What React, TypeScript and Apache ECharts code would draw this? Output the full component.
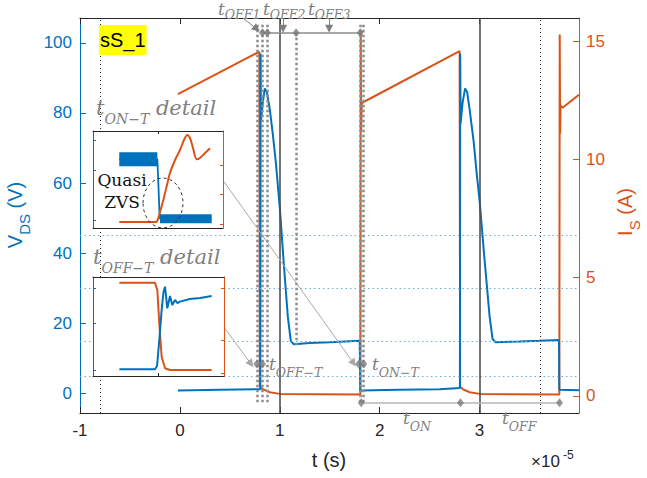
import React, { useEffect, useRef } from 'react';
import * as echarts from 'echarts';

const BLUE = '#0072BD';
const ORANGE = '#D95319';
const GRAY = '#808080';
const INK = '#262626';
const SANS = '"Liberation Sans", Arial, Helvetica, sans-serif';
const SERIF = '"DejaVu Serif", "Liberation Serif", serif';

// ---- tick labels ----
const xTicks = [-1, 0, 1, 2, 3];
const vTicks = [0, 20, 40, 60, 80, 100];
const iTicks = [0, 5, 10, 15];

// ---- main traces (t in units of 1e-5 s) ----
const vdsTrace: number[][] = [
  [-0.02, 0.8], [0.4, 1.0], [0.76, 1.2], [0.805, 1.2], [0.808, 97], [0.812, 78], [0.83, 83],
  [0.85, 87], [0.87, 86], [0.9, 81], [0.93, 74], [0.96, 66], [1.0, 53], [1.04, 37], [1.08, 22],
  [1.11, 15], [1.14, 14.0], [1.3, 14.4], [1.5, 14.6], [1.7, 14.9], [1.8, 15.0], [1.805, 0.8],
  [2.2, 1.0], [2.6, 1.2], [2.803, 1.5], [2.806, 97], [2.81, 77], [2.83, 83], [2.855, 87],
  [2.875, 86], [2.9, 81], [2.94, 72], [2.97, 63], [3.0, 55], [3.05, 38], [3.1, 22], [3.13, 15.5],
  [3.16, 14.6], [3.4, 14.8], [3.6, 15.0], [3.795, 15.2], [3.798, 1.0], [3.995, 0.9],
];
const isTrace: number[][] = [
  [-0.02, 12.78], [0.795, 14.57], [0.80, 0.4], [0.83, 0.28], [0.9, 0.15], [1.0, 0.08], [1.806, 0.05],
  [1.81, 15.4], [1.814, 11.2], [1.82, 12.4], [2.8, 14.6], [2.805, 0.4], [2.83, 0.28], [2.9, 0.15],
  [3.0, 0.08], [3.798, 0.05], [3.802, 15.3], [3.806, 11.1], [3.81, 12.3], [3.83, 12.2], [3.995, 12.75],
];

// ---- annotation positions (axis units) ----
const markerLines = [0.77, 0.826, 0.875, 1.805, 1.832];
const tOff3Line = 1.163;
const edgeLines = [1, 3];
const refDotted = [-0.8, 3.61];
const levelLines = [45, 30, 15, 5];
const topBarLevel = 102.9;
const topDiamonds = [0.826, 0.875, 1.163, 1.805];
const downArrows = [1.033, 1.494];
const bottomBarLevel = -2.7;
const bottomDiamonds = [1.815, 2.808, 3.8];
const midLevel = 8.4;
const midDiamonds = [0.77, 0.826, 1.79, 1.84];

// ---- inset traces (normalized 0..100 units) ----
const inset1Vds: number[][] = [[20.2, 71], [49.5, 71], [50.3, 45], [51, 20], [51.5, 9.6], [91.3, 9.6]];
const inset1VdsHigh: number[][] = [[20.2, 71], [49.5, 71]];
const inset1VdsLow: number[][] = [[51.5, 9.6], [91.3, 9.6]];
const inset1Is: number[][] = [
  [20.2, 6.2], [47, 6.2], [49, 6.5], [51.5, 16.5], [54.1, 28.9], [56.9, 44.3], [59.2, 56.7],
  [63.1, 70.1], [66.9, 80.4], [70, 90.7], [72.5, 95.9], [74.6, 92.8], [76.9, 82.5], [79.8, 70.8],
  [82.3, 72.2], [86.2, 77.3], [90, 82.2],
];
const inset2Is: number[][] = [
  [20.1, 94.2], [47.3, 94.2], [49.1, 86.9], [50.6, 53.5], [52.4, 19.5], [55, 7.8], [58.8, 6.1], [90.6, 6.1],
];
const inset2Vds: number[][] = [
  [20.1, 6.8], [47.3, 6.8], [48.9, 10.1], [50.6, 36.4], [52.4, 66.7], [53.8, 84.8], [55, 90.2],
  [56.7, 68.4], [58.8, 80.8], [60.5, 71.7], [62.6, 76.8], [64.5, 73.7], [66.4, 75.1], [74, 77.8],
  [81.7, 78.8], [90.6, 80.8],
];
const inset1HLines = [59, 35];
const inset1VLines = [30, 60, 80];
const inset2HLines = [84, 66.7, 39.7, 23.2];
const inset2SolidLine = 49.5;

// ---- helpers ----
const seg = (a: number[], b: number[]) => [{ coord: a }, { coord: b }];

function subLabel(x: number, baseline: number, main: string, sub: string, size: number, subSize: number, drop: number, tail = '', lead = 6) {
  const lh = size + lead;
  const pt = drop + lh / 2 + 0.35 * size - 0.85 * subSize;
  const top = baseline - (lh / 2 + 0.35 * size);
  return {
    type: 'text', x, y: top, z: 60,
    style: {
      text: `{m|${main}}{s|${sub}}` + (tail ? `{m|${tail}}` : ''),
      align: 'left', verticalAlign: 'top',
      rich: {
        m: { fontSize: size, fontFamily: SERIF, fontStyle: 'italic', fill: GRAY, lineHeight: lh, verticalAlign: 'top' },
        s: { fontSize: subSize, fontFamily: SERIF, fontStyle: 'italic', fill: GRAY, lineHeight: subSize, padding: [pt, 0, 0, 0], verticalAlign: 'top' },
      },
    },
  };
}

function axisName(cx: number, cy: number, main: string, sub: string, tail: string, color: string, size: number, subSize: number, drop: number) {
  const lh = size + 6;
  const pt = drop + lh / 2 + 0.35 * size - 0.85 * subSize;
  return {
    type: 'text', x: cx, y: cy, rotation: Math.PI / 2, z: 60,
    style: {
      text: `{m|${main}}{s|${sub}}{m|${tail}}`,
      align: 'center', verticalAlign: 'middle',
      rich: {
        m: { fontSize: size, fontFamily: SANS, fill: color, lineHeight: lh, verticalAlign: 'top' },
        s: { fontSize: subSize, fontFamily: SANS, fill: color, lineHeight: subSize, padding: [pt, 0, 0, 0], verticalAlign: 'top' },
      },
    },
  };
}

const insetX = (gridIndex: number, position: string, ticks: number[]) => ({
  gridIndex, type: 'value', min: 0, max: 100, position, z: 12,
  axisLine: { show: true, onZero: false, lineStyle: { color: INK, width: 1 } },
  axisTick: { show: ticks.length > 0, inside: true, length: 3, customValues: ticks, lineStyle: { color: INK } },
  axisLabel: { show: false }, splitLine: { show: false },
});
const insetY = (gridIndex: number, position: string, color: string, ticks: number[]) => ({
  gridIndex, type: 'value', min: 0, max: 100, position, z: 12,
  axisLine: { show: true, onZero: false, lineStyle: { color, width: 1 } },
  axisTick: { show: true, inside: true, length: 3, customValues: ticks, lineStyle: { color } },
  axisLabel: { show: false }, splitLine: { show: false },
});

const markBase = { silent: true, animation: false, symbol: ['none', 'none'], label: { show: false } };

function buildOption() {
  return {
    animation: false,
    backgroundColor: '#fff',
    grid: [
      { left: 80, top: 18, width: 499, height: 395, containLabel: false, outerBoundsMode: 'none' },
      { left: 93, top: 131, width: 130, height: 97, containLabel: false, outerBoundsMode: 'none', show: true, backgroundColor: '#fff', borderWidth: 0, z: 10 },
      { left: 93, top: 277, width: 131, height: 99, containLabel: false, outerBoundsMode: 'none', show: true, backgroundColor: '#fff', borderWidth: 0, z: 10 },
    ],
    xAxis: [
      {
        gridIndex: 0, type: 'value', min: -1, max: 3.995, position: 'bottom',
        axisLine: { show: true, onZero: false, lineStyle: { color: INK, width: 1 } },
        axisTick: { show: true, inside: true, length: 6, customValues: xTicks, lineStyle: { color: INK } },
        axisLabel: { show: true, customValues: xTicks, fontSize: 17, color: INK, fontFamily: SANS, margin: 9 },
        splitLine: { show: false },
      },
      {
        gridIndex: 0, type: 'value', min: -1, max: 3.995, position: 'top',
        axisLine: { show: true, onZero: false, lineStyle: { color: INK, width: 1 } },
        axisTick: { show: true, inside: true, length: 6, customValues: xTicks, lineStyle: { color: INK } },
        axisLabel: { show: false }, splitLine: { show: false },
      },
      insetX(1, 'bottom', []), insetX(1, 'top', [50]),
      insetX(2, 'bottom', [50]), insetX(2, 'top', []),
    ],
    yAxis: [
      {
        gridIndex: 0, type: 'value', min: -5.6, max: 107.1, position: 'left',
        axisLine: { show: true, onZero: false, lineStyle: { color: BLUE, width: 1 } },
        axisTick: { show: true, inside: true, length: 6, customValues: vTicks, lineStyle: { color: BLUE } },
        axisLabel: { show: true, customValues: vTicks, fontSize: 17, color: BLUE, fontFamily: SANS, margin: 8 },
        splitLine: { show: false },
      },
      {
        gridIndex: 0, type: 'value', min: -0.73, max: 16.0, position: 'right',
        axisLine: { show: true, onZero: false, lineStyle: { color: ORANGE, width: 1 } },
        axisTick: { show: true, inside: true, length: 6, customValues: iTicks, lineStyle: { color: ORANGE } },
        axisLabel: { show: true, customValues: iTicks, fontSize: 17, color: ORANGE, fontFamily: SANS, margin: 7 },
        splitLine: { show: false },
      },
      insetY(1, 'left', BLUE, [90.7, 59.8, 8.2]), insetY(1, 'right', ORANGE, [65, 35.1, 4.1]),
      insetY(2, 'left', BLUE, [88.9, 53.5, 6.1]), insetY(2, 'right', ORANGE, [88.9, 36.4, 3]),
    ],
    series: [
      // reference lines
      {
        type: 'line', xAxisIndex: 0, yAxisIndex: 0, data: [], z: 1, silent: true,
        markLine: {
          ...markBase,
          lineStyle: { color: '#6aaee0', width: 1, type: [1.5, 3] },
          data: levelLines.map((v) => ({ yAxis: v })),
        },
      },
      {
        type: 'line', xAxisIndex: 0, yAxisIndex: 0, data: [], z: 1, silent: true,
        markLine: {
          ...markBase,
          lineStyle: { color: '#222', width: 1, type: [1, 3] },
          data: refDotted.map((t) => ({ xAxis: t })),
        },
      },
      {
        type: 'line', xAxisIndex: 0, yAxisIndex: 0, data: [], z: 1, silent: true,
        markLine: {
          ...markBase,
          lineStyle: { color: '#505050', width: 1.6, type: 'solid' },
          data: edgeLines.map((t) => ({ xAxis: t })),
        },
      },
      {
        type: 'line', xAxisIndex: 0, yAxisIndex: 0, data: [], z: 2, silent: true,
        markLine: {
          ...markBase,
          lineStyle: { color: '#8c8c8c', width: 2.5, type: [2.5, 2.5] },
          data: [
            ...markerLines.map((t) => seg([t, 105.2], [t, -2.5])),
            seg([tOff3Line, topBarLevel], [tOff3Line, 13]),
          ],
        },
      },
      {
        type: 'line', xAxisIndex: 0, yAxisIndex: 0, data: [], z: 2, silent: true,
        markLine: {
          ...markBase,
          lineStyle: { color: '#8c8c8c', width: 1.5, type: 'solid' },
          data: [seg([topDiamonds[0], topBarLevel], [topDiamonds[topDiamonds.length - 1], topBarLevel])],
        },
      },
      {
        type: 'line', xAxisIndex: 0, yAxisIndex: 0, data: [], z: 2, silent: true,
        markLine: {
          ...markBase,
          lineStyle: { color: '#b5b5b5', width: 1.5, type: 'solid' },
          data: [seg([bottomDiamonds[0], bottomBarLevel], [bottomDiamonds[bottomDiamonds.length - 1], bottomBarLevel])],
        },
      },
      {
        type: 'line', xAxisIndex: 0, yAxisIndex: 0, data: [], z: 6, silent: true,
        markLine: {
          ...markBase,
          symbol: ['none', 'triangle'], symbolSize: 8,
          lineStyle: { color: '#7f7f7f', width: 1, type: 'solid' },
          data: [
            seg([0.63, 107.1], [0.768, 104.0]),
            ...downArrows.map((t) => seg([t, 107.1], [t, 104.0])),
          ],
        },
      },
      {
        type: 'line', xAxisIndex: 0, yAxisIndex: 0, data: [], z: 6, silent: true,
        markLine: {
          ...markBase,
          symbol: ['none', 'triangle'], symbolSize: 8,
          lineStyle: { color: '#a8a8a8', width: 1, type: 'solid' },
          data: [seg([0.441, 60.4], [1.739, 8.6]), seg([0.441, 18.9], [0.712, 8.4])],
        },
      },
      // measured traces
      {
        name: 'IS', type: 'line', xAxisIndex: 0, yAxisIndex: 1, data: isTrace, showSymbol: false, z: 3,
        lineStyle: { color: ORANGE, width: 2 }, itemStyle: { color: ORANGE },
      },
      {
        name: 'VDS', type: 'line', xAxisIndex: 0, yAxisIndex: 0, data: vdsTrace, showSymbol: false, z: 4,
        lineStyle: { color: BLUE, width: 2 }, itemStyle: { color: BLUE },
      },
      // diamonds
      {
        type: 'scatter', xAxisIndex: 0, yAxisIndex: 0, z: 7, silent: true, symbol: 'diamond', symbolSize: [7, 9],
        itemStyle: { color: '#7a7a7a' },
        data: [
          ...topDiamonds.map((t) => [t, topBarLevel]),
          ...bottomDiamonds.map((t) => [t, bottomBarLevel]),
          ...midDiamonds.map((t) => [t, midLevel]),
        ],
      },
      // inset 1
      {
        type: 'line', xAxisIndex: 2, yAxisIndex: 2, data: [], z: 13, silent: true,
        markLine: {
          ...markBase,
          data: [
            ...inset1HLines.map((v) => ({ yAxis: v, lineStyle: { color: '#4a90d0', width: 1, type: [1.5, 3] } })),
            ...inset1VLines.map((u) => ({ xAxis: u, lineStyle: { color: '#222', width: 1, type: [1, 3] } })),
          ],
        },
      },
      {
        type: 'line', xAxisIndex: 2, yAxisIndex: 2, data: inset1VdsHigh, showSymbol: false, z: 14,
        lineStyle: { color: BLUE, width: 14, cap: 'butt' },
      },
      {
        type: 'line', xAxisIndex: 2, yAxisIndex: 2, data: inset1VdsLow, showSymbol: false, z: 14,
        lineStyle: { color: BLUE, width: 9, cap: 'butt' },
      },
      {
        type: 'line', xAxisIndex: 2, yAxisIndex: 2, data: inset1Vds, showSymbol: false, z: 14,
        lineStyle: { color: BLUE, width: 1.8 },
      },
      {
        type: 'line', xAxisIndex: 2, yAxisIndex: 3, data: inset1Is, showSymbol: false, z: 15, smooth: 0.3,
        lineStyle: { color: ORANGE, width: 2 },
      },
      // inset 2
      {
        type: 'line', xAxisIndex: 4, yAxisIndex: 4, data: [], z: 13, silent: true,
        markLine: {
          ...markBase,
          data: [
            ...inset2HLines.map((v) => ({ yAxis: v, lineStyle: { color: '#4a90d0', width: 1, type: [1.5, 3] } })),
            { yAxis: inset2SolidLine, lineStyle: { color: '#6b8fb0', width: 1, type: 'solid' } },
          ],
        },
      },
      {
        type: 'line', xAxisIndex: 4, yAxisIndex: 5, data: inset2Is, showSymbol: false, z: 14,
        lineStyle: { color: ORANGE, width: 2 },
      },
      {
        type: 'line', xAxisIndex: 4, yAxisIndex: 4, data: inset2Vds, showSymbol: false, z: 15,
        lineStyle: { color: BLUE, width: 2 },
      },
    ],
    graphic: [
      {
        type: 'text', x: 99, y: 25, z: 60,
        style: {
          text: 'sS_1', fontSize: 20, fontFamily: SANS, fill: '#000', backgroundColor: '#ffff00',
          padding: [5, 1, 5, 1], lineHeight: 20, align: 'left', verticalAlign: 'top',
        },
      },
      {
        type: 'text', x: 122, y: 169, z: 60,
        style: {
          text: 'Quasi\nZVS', fontSize: 17, fontFamily: SERIF, fill: '#111', lineHeight: 22,
          align: 'center', verticalAlign: 'top', backgroundColor: '#fff',
        },
      },
      {
        type: 'ellipse', z: 61, shape: { cx: 163, cy: 203, rx: 20, ry: 25 },
        style: { fill: 'none', stroke: '#333', lineWidth: 1, lineDash: [3, 3] },
      },
      subLabel(218, 15, 't', 'OFF1', 17, 12.5, 4, '', 0),
      subLabel(263, 15, 't', 'OFF2', 17, 12.5, 4, '', 0),
      subLabel(308, 15, 't', 'OFF3', 17, 12.5, 4, '', 0),
      subLabel(96, 118, 't', 'ON−T', 21, 14, 6, ' detail'),
      subLabel(93, 267, 't', 'OFF−T', 21, 14, 6, ' detail'),
      subLabel(269, 373, 't', 'OFF−T', 17, 12.5, 4),
      subLabel(372, 373, 't', 'ON−T', 17, 12.5, 4),
      subLabel(403, 427, 't', 'ON', 17, 12.5, 4),
      subLabel(502, 427, 't', 'OFF', 17, 12.5, 4),
      axisName(18, 215, 'V', 'DS', ' (V)', BLUE, 20, 15, 5),
      axisName(628, 212, 'I', 'S', ' (A)', ORANGE, 20, 15, 5),
      {
        type: 'text', x: 329, y: 460, z: 60,
        style: { text: 't (s)', fontSize: 20, fontFamily: SANS, fill: INK, align: 'center', verticalAlign: 'middle' },
      },
      {
        type: 'text', x: 531, y: 470, z: 60,
        style: { text: '×10', fontSize: 17, fontFamily: SANS, fill: INK, align: 'left', verticalAlign: 'bottom' },
      },
      {
        type: 'text', x: 563, y: 449, z: 60,
        style: { text: '-5', fontSize: 12, fontFamily: SANS, fill: INK, align: 'left', verticalAlign: 'top' },
      },
    ],
  };
}

export default function App() {
  const ref = useRef<HTMLDivElement>(null);
  useEffect(() => {
    if (!ref.current) return;
    const chart = echarts.init(ref.current, undefined, { renderer: 'svg' });
    chart.setOption(buildOption() as any);
    return () => chart.dispose();
  }, []);
  return (
    <div
      ref={ref}
      style={{ position: 'fixed', left: 0, top: 0, width: 647, height: 478, background: '#fff' }}
    />
  );
}
